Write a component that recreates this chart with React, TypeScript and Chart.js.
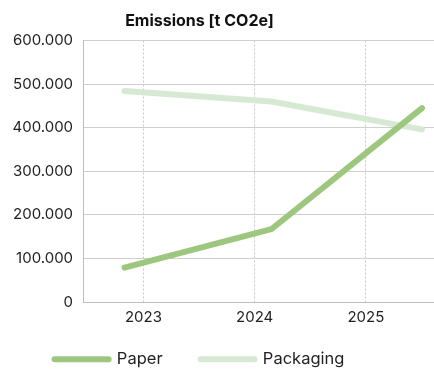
import React, { useEffect, useRef } from "react";
import { Chart, registerables } from "chart.js";

Chart.register(...registerables);

const chartTitle = "Emissions [t CO2e]";
const seriesNames = ["Paper", "Packaging"];
const periods = [2022.83, 2024.15, 2025.505];
const paperValues = [79000, 167000, 445000];
const packagingValues = [484000, 460000, 396000];
const yearTicks = [2023, 2024, 2025];
const xRange = [2022.457, 2025.613];
const yRange = [0, 600000];
const yStep = 100000;

const colors = ["#9dc67f", "#d6e9d3"];
const FONT = "Inter, 'DejaVu Sans', sans-serif";
const headerWidth = 394;
const legendLift = 19;

function fmt(v: number): string {
  return String(Math.round(v)).replace(/\B(?=(\d{3})+(?!\d))/g, ".");
}

const recenter = {
  id: "recenter",
  afterLayout(chart: any) {
    const lg = chart.legend;
    if (lg) {
      lg.right = lg.left + headerWidth;
      lg.top -= legendLift;
      lg.bottom -= legendLift;
    }
    if (chart.titleBlock) chart.titleBlock.right = chart.titleBlock.left + headerWidth;
  },
};

export default function App() {
  const ref = useRef<HTMLCanvasElement | null>(null);
  useEffect(() => {
    if (!ref.current) return;
    const mk = (vals: number[]) => periods.map((x, i) => ({ x, y: vals[i] }));
    const ds = (i: number, vals: number[]) => ({
      label: seriesNames[i],
      data: mk(vals),
      borderColor: colors[i],
      backgroundColor: colors[i],
      borderWidth: 6,
      borderCapStyle: "round",
      borderJoinStyle: "round",
      pointRadius: 0,
      pointHoverRadius: 0,
      pointStyle: "line",
      tension: 0,
    });
    const chart = new Chart(ref.current, {
      type: "line",
      data: {
        datasets: [ds(0, paperValues), ds(1, packagingValues)],
      },
      options: {
        animation: false,
        responsive: true,
        maintainAspectRatio: false,
        layout: { padding: { left: 2.5, right: 0, top: 0, bottom: -27.5 } },
        plugins: {
          title: {
            display: true,
            text: chartTitle,
            color: "#111",
            font: { family: FONT, size: 16, weight: "bold" },
            padding: { top: 11.5, bottom: 9.8 },
          },
          legend: {
            position: "bottom",
            labels: {
              usePointStyle: true,
              pointStyle: "line",
              pointStyleWidth: 54,
              padding: 38,
              color: "#222",
              font: { family: FONT, size: 16.5 },
              generateLabels: (c: any) =>
                Chart.defaults.plugins.legend.labels
                  .generateLabels(c)
                  .map((l: any) => ({ ...l, lineCap: "round", lineWidth: 6 })),
            },
          },
          tooltip: { enabled: false },
        },
        scales: {
          x: {
            type: "linear",
            min: xRange[0],
            max: xRange[1],
            afterBuildTicks: (axis: any) => {
              axis.ticks = yearTicks.map((v) => ({ value: v }));
            },
            ticks: {
              color: "#222",
              font: { family: FONT, size: 15 },
              padding: 6,
              callback: (v: any) => String(v),
            },
            grid: { color: "#c8c8c8", drawTicks: false, lineWidth: 1 },
            border: { color: "#bdbdbd", dash: [2, 2] },
          },
          y: {
            min: yRange[0],
            max: yRange[1],
            ticks: {
              stepSize: yStep,
              color: "#222",
              font: { family: FONT, size: 15 },
              padding: 10,
              callback: (v: any) => fmt(Number(v)),
            },
            grid: { color: "#cfcfcf", drawTicks: false },
            border: { color: "#bdbdbd" },
          },
        },
      },
      plugins: [recenter],
    } as any);
    return () => chart.destroy();
  }, []);
  return (
    <div style={{ position: "fixed", left: 0, top: 0, width: 434, height: 369 }}>
      <canvas ref={ref} />
    </div>
  );
}
